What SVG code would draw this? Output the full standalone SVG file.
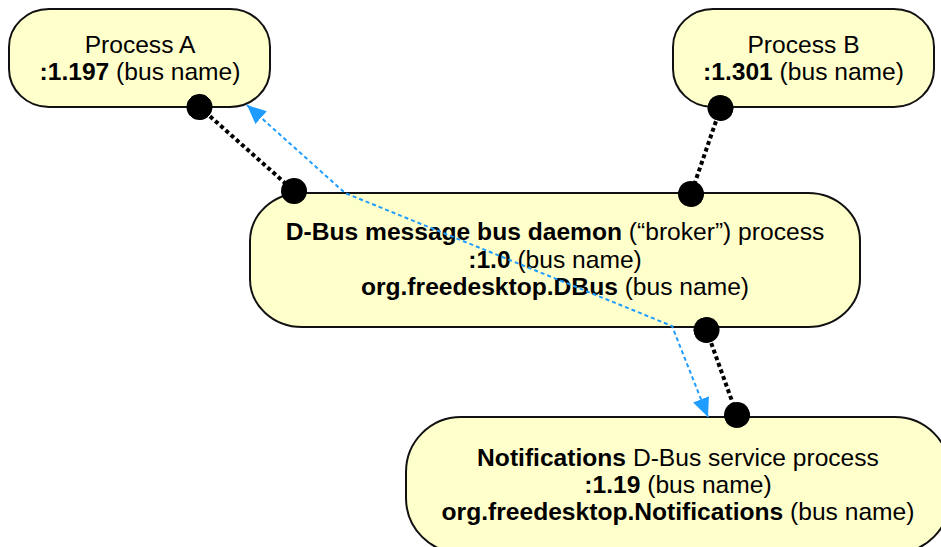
<svg xmlns="http://www.w3.org/2000/svg" width="941" height="547" viewBox="0 0 941 547">
<style>
.box{fill:#ffffcc;stroke:#111;stroke-width:2}
text{font-family:"Liberation Sans",Arial,sans-serif;font-size:24.6px;fill:#000;text-anchor:middle}
.b{font-weight:bold}
.link{fill:none;stroke:#000;stroke-width:4;stroke-dasharray:4 3;marker-start:url(#dot);marker-end:url(#dot)}
.msg{fill:none;stroke:#1e9cff;stroke-width:2;stroke-dasharray:4 3;marker-start:url(#arr);marker-end:url(#arr)}
</style>
<defs>
<marker id="dot" markerUnits="userSpaceOnUse" viewBox="-13 -13 26 26" refX="0" refY="0" markerWidth="26" markerHeight="26" orient="auto">
<circle cx="0" cy="0" r="13" fill="#000"/>
</marker>
<marker id="arr" markerUnits="userSpaceOnUse" viewBox="0 0 19 17" refX="19" refY="8.5" markerWidth="19" markerHeight="17" orient="auto-start-reverse">
<path d="M0,0 L19,8.5 L0,17 z" fill="#1e9cff"/>
</marker>
</defs>
<g id="processA">
<rect class="box" x="9" y="9" width="261" height="98" rx="40" ry="38"/>
<text x="140" y="53">Process A</text>
<text x="140" y="80"><tspan class="b">:1.197</tspan> (bus name)</text>
</g>
<g id="processB">
<rect class="box" x="673" y="9" width="261" height="98" rx="40" ry="38"/>
<text x="803.5" y="53">Process B</text>
<text x="803.5" y="80"><tspan class="b">:1.301</tspan> (bus name)</text>
</g>
<g id="broker">
<rect class="box" x="250" y="193" width="610" height="134" rx="52" ry="48"/>
<text x="555" y="240"><tspan class="b">D-Bus message bus daemon</tspan> (“broker”) process</text>
<text x="555" y="268"><tspan class="b">:1.0</tspan> (bus name)</text>
<text x="555" y="295"><tspan class="b">org.freedesktop.DBus</tspan> (bus name)</text>
</g>
<g id="notifications">
<rect class="box" x="406" y="417" width="544" height="136" rx="55" ry="55"/>
<text x="678" y="466"><tspan class="b">Notifications</tspan> D-Bus service process</text>
<text x="678" y="493"><tspan class="b">:1.19</tspan> (bus name)</text>
<text x="678" y="520"><tspan class="b">org.freedesktop.Notifications</tspan> (bus name)</text>
</g>
<g id="connectors">
<path class="link" d="M199.5,107 L294,191"/>
<path class="link" d="M720.5,108 L691,194"/>
<path class="link" d="M706.5,330 L737,415"/>
<path class="msg" d="M247,105 L345,193 L672,326 L708,417"/>
</g>
</svg>
